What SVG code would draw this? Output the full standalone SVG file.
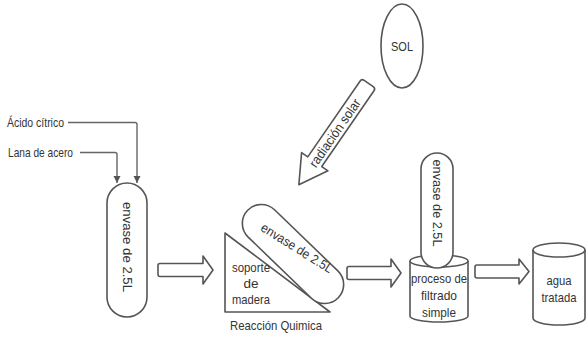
<svg xmlns="http://www.w3.org/2000/svg" width="587" height="339" viewBox="0 0 587 339">
<defs>
<style>
.s{fill:#fff;stroke:#555;stroke-width:1.6;stroke-linejoin:round}
.l{fill:none;stroke:#666;stroke-width:1.4}
.t{font-family:"Liberation Sans",Arial,sans-serif;font-size:13.5px;fill:#333}
.m{text-anchor:middle}
</style>
<marker id="ah" markerWidth="8" markerHeight="8" refX="7" refY="3.5" orient="auto" markerUnits="userSpaceOnUse">
<path d="M0,0 L7,3.5 L0,7 z" fill="#555"/>
</marker>
</defs>
<rect width="587" height="339" fill="#fff"/>

<g id="connectors">
<path class="l" d="M68,122.5 H135 Q137,122.5 137,124.5 V183" marker-end="url(#ah)"/>
<path class="l" d="M80,152.5 H115 Q117,152.5 117,154.5 V183" marker-end="url(#ah)"/>
<path class="s" d="M160,263.5 H203 V256 L213,270 L203,284 V276.5 H160 Q158,276.5 158,274.5 V265.5 Q158,263.5 160,263.5 Z"/>
<path class="s" d="M349,266.5 H391 V259 L401,273 L391,287 V279.5 H349 Q347,279.5 347,277.5 V268.5 Q347,266.5 349,266.5 Z"/>
<path class="s" d="M477,265 H519 V259 L529,271.5 L519,284 V278 H477 Q475,278 475,276 V267 Q475,265 477,265 Z"/>
<g id="radiacion">
<path class="s" transform="translate(367,86) rotate(124.6)" d="M0,-8.5 H92 V-16 L120,0 L92,16 V8.5 H0 Q-3,8.5 -3,5.5 V-5.5 Q-3,-8.5 0,-8.5 Z"/>
<text class="t m" transform="translate(335,133) rotate(-55.4)" dy="4.5" textLength="80" lengthAdjust="spacingAndGlyphs">radiación solar</text>
</g>
</g>

<g id="acido"><text class="t" x="7" y="127" textLength="57" lengthAdjust="spacingAndGlyphs">Ácido cítrico</text></g>
<g id="lana"><text class="t" x="8" y="157" textLength="65" lengthAdjust="spacingAndGlyphs">Lana de acero</text></g>

<g id="envase1">
<rect class="s" x="107" y="183" width="40" height="134" rx="20"/>
<text class="t m" transform="translate(127,247) rotate(90)" dy="4.5" textLength="90" lengthAdjust="spacingAndGlyphs" style="font-size:13px">envase de 2.5L</text>
</g>

<g id="soporte">
<path class="s" d="M225,233 L330,312 H225 Z"/>
<text class="t m" x="251" y="272" textLength="38" lengthAdjust="spacingAndGlyphs">soporte</text>
<text class="t m" x="251" y="288">de</text>
<text class="t m" x="251" y="304" textLength="38" lengthAdjust="spacingAndGlyphs">madera</text>
</g>

<g id="envase2">
<rect class="s" transform="translate(293,254) rotate(44)" x="-63" y="-19" width="126" height="38" rx="19"/>
<text class="t m" transform="translate(297,248) rotate(32)" dy="4.5" textLength="82" lengthAdjust="spacingAndGlyphs" style="font-size:13px">envase de 2.5L</text>
</g>

<g id="reaccion"><text class="t m" x="276" y="330" textLength="92" lengthAdjust="spacingAndGlyphs">Reacción Quimica</text></g>

<g id="sol">
<ellipse class="s" cx="402" cy="46" rx="21" ry="42"/>
<text class="t m" x="402" y="51" textLength="22" lengthAdjust="spacingAndGlyphs">SOL</text>
</g>

<g id="filtrado">
<path class="s" d="M410,261 A29,6 0 0 1 468,261 V316 A29,6 0 0 1 410,316 Z"/>
<path class="l" d="M410,261 A29,6 0 0 0 468,261" style="stroke:#555;stroke-width:1.6"/>
<text class="t m" x="439" y="283" textLength="56" lengthAdjust="spacingAndGlyphs">proceso de</text>
<text class="t m" x="439" y="300" textLength="36" lengthAdjust="spacingAndGlyphs">filtrado</text>
<text class="t m" x="439" y="317" textLength="34" lengthAdjust="spacingAndGlyphs">simple</text>
</g>

<g id="envase3">
<rect class="s" x="421" y="153" width="32" height="115" rx="16"/>
<text class="t m" transform="translate(437,203) rotate(90)" dy="4.5" textLength="87" lengthAdjust="spacingAndGlyphs" style="font-size:13px">envase de 2.5L</text>
</g>

<g id="agua">
<path class="s" d="M533,250 A26,7 0 0 1 585,250 V318 A26,7 0 0 1 533,318 Z"/>
<path class="l" d="M533,250 A26,7 0 0 0 585,250" style="stroke:#555;stroke-width:1.6"/>
<text class="t m" x="559" y="285" textLength="25" lengthAdjust="spacingAndGlyphs">agua</text>
<text class="t m" x="559" y="302" textLength="35" lengthAdjust="spacingAndGlyphs">tratada</text>
</g>
</svg>
